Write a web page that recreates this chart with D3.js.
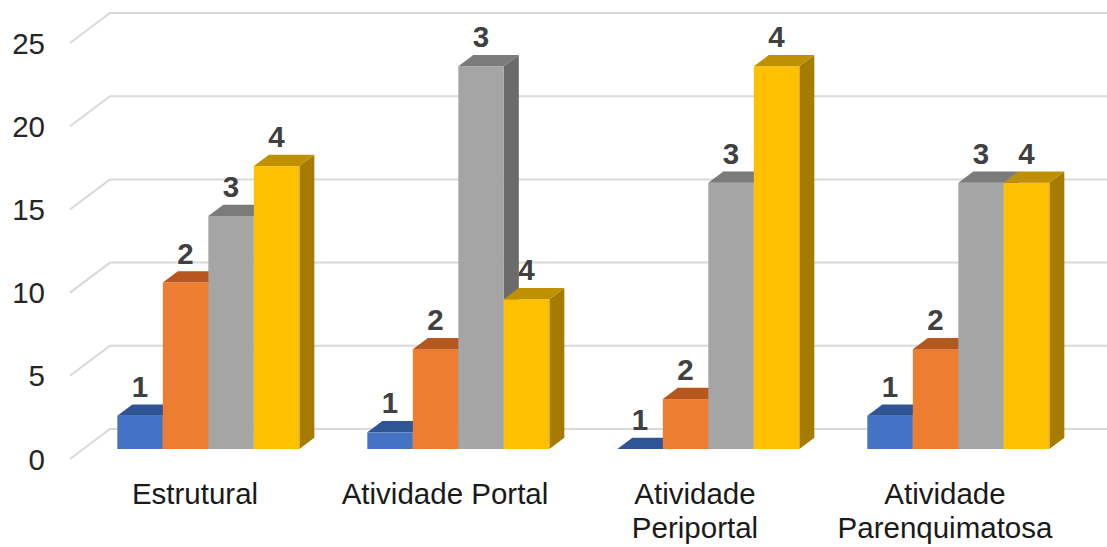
<!DOCTYPE html>
<html>
<head>
<meta charset="utf-8">
<script src="https://cdn.jsdelivr.net/npm/d3@7"></script>
<style>
html,body{margin:0;padding:0;background:#fff;}
svg{display:block;font-family:"Liberation Sans",Arial,sans-serif;}
</style>
</head>
<body>
<svg id="chart" width="1107" height="547"></svg>
<script>
// ---- data ----
const categories = ["Estrutural", "Atividade Portal", "Atividade Periportal", "Atividade Parenquimatosa"];
const seriesNames = ["1", "2", "3", "4"];
const series1 = [2, 1, 0, 2];
const series2 = [10, 6, 3, 6];
const series3 = [14, 23, 16, 16];
const series4 = [17, 9, 23, 16];
const yTicks = [0, 5, 10, 15, 20, 25];

const seriesValues = [series1, series2, series3, series4];
const frontColors = ["#4472C4", "#ED7D31", "#A5A5A5", "#FFC000"];
const topColors   = ["#2F5597", "#B5571E", "#7B7B7B", "#BF9000"];
const sideColors  = ["#2A4D8A", "#A34E1B", "#6B6B6B", "#A67C00"];

const svg = d3.select("#chart");

// front plane geometry
const wallDX = 40, wallDY = -30;     // full depth offset
const barD0 = 1/3, barD1 = 1/3 + 0.375; // bar depth range (fraction of full depth)

const y = d3.scaleLinear().domain([0, 25]).range([459, 43]);
const x0 = d3.scaleBand().domain(categories).range([70, 1070])
  .paddingInner(0.272).paddingOuter(0.136);
const x1 = d3.scaleBand().domain(seriesNames).range([0, x0.bandwidth()]).padding(0);

// gridlines (floor-to-back-wall perspective)
const grid = svg.append("g");
yTicks.forEach(t => {
  const yf = y(t);
  grid.append("path")
    .attr("d", `M70,${yf} L${70 + wallDX},${yf + wallDY} L1107,${yf + wallDY}`)
    .attr("fill", "none").attr("stroke", "#D9D9D9").attr("stroke-width", 2);
});

// y tick labels
svg.append("g").selectAll("text").data(yTicks).join("text")
  .attr("x", 45).attr("y", d => y(d)).attr("dy", "0.36em")
  .attr("text-anchor", "end").attr("font-size", 29.5).attr("fill", "#262626")
  .text(d => d);

// bars
const bars = svg.append("g");
const labels = svg.append("g");
const ox0 = wallDX * barD0, oy0 = wallDY * barD0;
const ox1 = wallDX * barD1, oy1 = wallDY * barD1;
categories.forEach((c, ci) => {
  seriesNames.forEach((s, si) => {
    const v = seriesValues[si][ci];
    const xl = x0(c) + x1(s) + ox0;
    const xr = xl + x1.bandwidth();
    const yb = y(0) + oy0;
    const yt = y(v) + oy0;
    const ddx = ox1 - ox0, ddy = oy1 - oy0;
    const g = bars.append("g");
    // side face
    g.append("path")
      .attr("d", `M${xr},${yt} L${xr + ddx},${yt + ddy} L${xr + ddx},${yb + ddy} L${xr},${yb} Z`)
      .attr("fill", sideColors[si]);
    // front face
    if (v > 0) {
      g.append("rect").attr("x", xl).attr("y", yt).attr("width", xr - xl).attr("height", yb - yt)
        .attr("fill", frontColors[si]);
    }
    // top face
    g.append("path")
      .attr("d", `M${xl},${yt} L${xl + ddx},${yt + ddy} L${xr + ddx},${yt + ddy} L${xr},${yt} Z`)
      .attr("fill", topColors[si]);
    labels.append("text")
      .attr("x", (xl + xr) / 2).attr("y", yt - 19)
      .attr("text-anchor", "middle").attr("font-size", 29.5).attr("font-weight", "bold")
      .attr("fill", "#404040").text(s);
  });
});

// category labels with wrapping
const catG = svg.append("g");
categories.forEach(c => {
  const cx = x0(c) + x0.bandwidth() / 2;
  const t = catG.append("text").attr("text-anchor", "middle")
    .attr("font-size", 29.5).attr("fill", "#1A1A1A");
  const probe = t.append("tspan").attr("x", cx).attr("y", 504).text(c);
  if (probe.node().getComputedTextLength() > 235) {
    probe.remove();
    const words = c.split(" ");
    t.append("tspan").attr("x", cx).attr("y", 504).text(words[0]);
    t.append("tspan").attr("x", cx).attr("y", 538).text(words.slice(1).join(" "));
  }
});
</script>
</body>
</html>
